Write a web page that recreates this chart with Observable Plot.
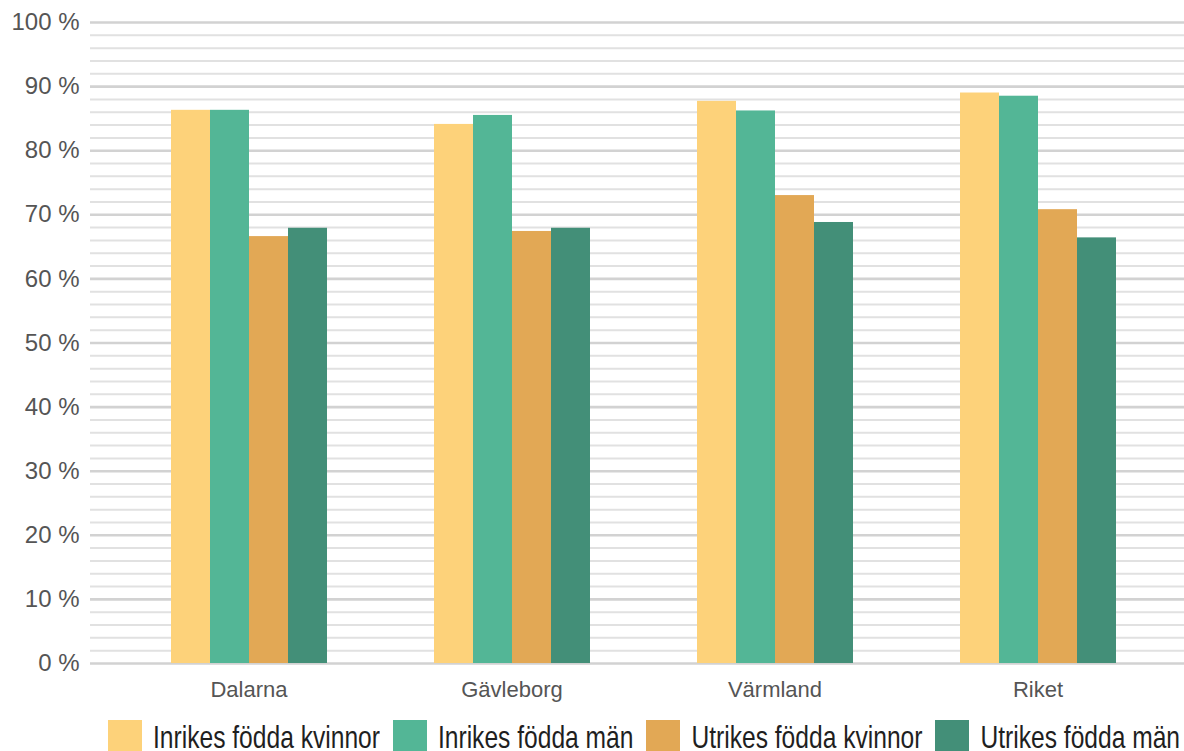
<!DOCTYPE html>
<html>
<head>
<meta charset="utf-8">
<script src="https://cdn.jsdelivr.net/npm/d3@7"></script>
<script src="https://cdn.jsdelivr.net/npm/@observablehq/plot@0.6"></script>
<style>
  html, body { margin: 0; padding: 0; background: #fff; overflow: hidden; }
  #chart { position: relative; width: 1196px; height: 705px; }
  #chart svg { display: block; position: absolute; left: 0; top: 0; }
  .legend { display: flex; align-items: flex-start; padding-left: 108px; margin-top: 15px; white-space: nowrap; }
  .item { display: flex; align-items: flex-start; margin-right: 13px; }
  .sw { width: 34px; height: 34px; margin-right: 11px; flex: none; }
  .lab { font-family: "Liberation Sans", Arial, sans-serif; font-size: 24.6px; line-height: 20px; color: #1f1f1f; margin-top: 4.5px; transform: scaleY(1.28); transform-origin: 0 0; }
</style>
</head>
<body>
<div id="chart"></div>
<div class="legend" id="legend"></div>
<script>
const regions = ["Dalarna", "Gävleborg", "Värmland", "Riket"];
const seriesNames = ["Inrikes födda kvinnor", "Inrikes födda män", "Utrikes födda kvinnor", "Utrikes födda män"];
const seriesColors = ["#FDD27A", "#53B696", "#E2A855", "#438F78"];
const inrikesKvinnor = [86.3, 84.1, 87.7, 89.0];
const inrikesMan = [86.3, 85.5, 86.2, 88.5];
const utrikesKvinnor = [66.6, 67.4, 73.0, 70.8];
const utrikesMan = [67.9, 67.9, 68.8, 66.4];
const yTicks = [0, 10, 20, 30, 40, 50, 60, 70, 80, 90, 100];
const yMinor = [2, 4, 6, 8, 12, 14, 16, 18, 22, 24, 26, 28, 32, 34, 36, 38, 42, 44, 46, 48, 52, 54, 56, 58, 62, 64, 66, 68, 72, 74, 76, 78, 82, 84, 86, 88, 92, 94, 96, 98];

const seriesValues = [inrikesKvinnor, inrikesMan, utrikesKvinnor, utrikesMan];
const data = [];
regions.forEach((r, i) => seriesNames.forEach((s, j) => data.push({region: r, series: s, value: seriesValues[j][i]})));

const common = {
  width: 1196,
  height: 705,
  marginLeft: 90,
  marginRight: 0,
  marginTop: 22,
  marginBottom: 42,
  y: {domain: [0, 100], axis: null}
};

// background: gridlines and y axis across the whole frame
const back = Plot.plot({
  ...common,
  style: {fontFamily: "'Liberation Sans', Arial, sans-serif", background: "#fff"},
  marks: [
    Plot.ruleY(yMinor, {y: d => d, stroke: "#e1e1e1", strokeWidth: 2}),
    Plot.ruleY(yTicks, {y: d => d, stroke: "#d2d2d2", strokeWidth: 2.6}),
    Plot.axisY(yTicks, {anchor: "left", tickSize: 0, tickPadding: 11, tickFormat: d => d + " %", fontSize: 24, fill: "#555"})
  ]
});

// foreground: grouped bars
const front = Plot.plot({
  ...common,
  style: {fontFamily: "'Liberation Sans', Arial, sans-serif", background: "transparent"},
  fx: {domain: regions, paddingInner: 0.403, paddingOuter: 0.304, label: null},
  x: {domain: seriesNames, padding: 0, axis: null},
  color: {domain: seriesNames, range: seriesColors},
  marks: [
    Plot.barY(data, {fx: "region", x: "series", y: "value", fill: "series", inset: 0}),
    Plot.axisFx({anchor: "bottom", tickSize: 0, tickPadding: 18, fontSize: 22, fill: "#555", label: null})
  ]
});

const c = document.getElementById("chart");
c.appendChild(back);
c.appendChild(front);

const legend = document.getElementById("legend");
seriesNames.forEach((s, j) => {
  const it = document.createElement("div");
  it.className = "item";
  const sw = document.createElement("div");
  sw.className = "sw";
  sw.style.background = seriesColors[j];
  const lab = document.createElement("div");
  lab.className = "lab";
  lab.textContent = s;
  it.appendChild(sw);
  it.appendChild(lab);
  legend.appendChild(it);
});
</script>
</body>
</html>
